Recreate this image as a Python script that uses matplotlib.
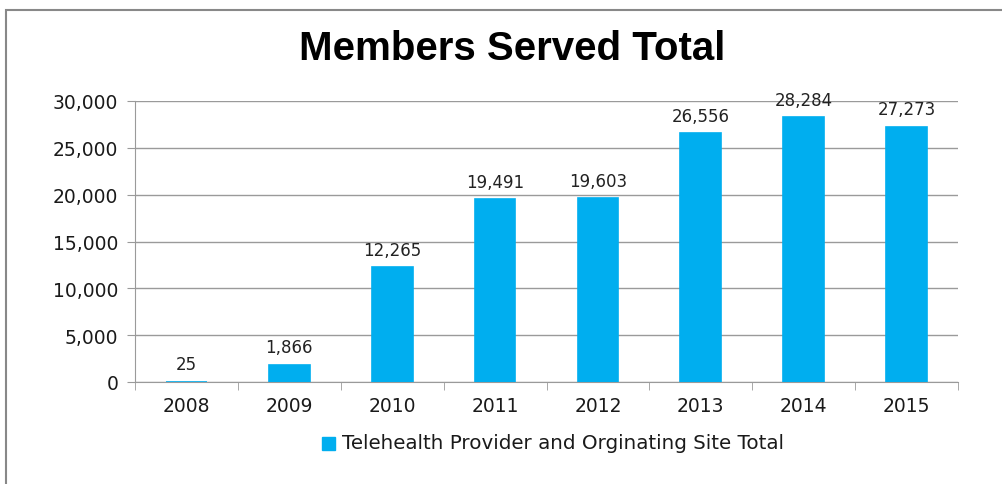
import matplotlib
matplotlib.use("Agg")
import matplotlib.pyplot as plt
from matplotlib.patches import Rectangle
from matplotlib.ticker import FuncFormatter

years = ["2008", "2009", "2010", "2011", "2012", "2013", "2014", "2015"]
members = [25, 1866, 12265, 19491, 19603, 26556, 28284, 27273]
series_name = "Telehealth Provider and Orginating Site Total"
title = "Members Served Total"

bar_color = "#00AEEF"
grid_color = "#9a9a9a"
text_color = "#1a1a1a"

fig = plt.figure(figsize=(10.02, 4.85), dpi=100)
W, H = 1002, 485

# outer chart frame
fig.patches.append(Rectangle((6 / W, -0.1), 1.2, 1 - 11 / H + 0.1, transform=fig.transFigure,
                             fill=False, edgecolor="#888888", linewidth=1.5))

ax = fig.add_axes([135 / W, 1 - 383 / H, (958 - 135) / W, (383 - 102) / H])
x = list(range(len(years)))
ax.bar(x, members, width=0.395, color=bar_color, edgecolor=bar_color, linewidth=1.2, zorder=3)

ax.set_xlim(-0.5, len(years) - 0.5)
ax.set_ylim(0, 30000)
ax.set_yticks(range(0, 30001, 5000))
ax.yaxis.set_major_formatter(FuncFormatter(lambda v, p: f"{int(v):,}"))
ax.grid(axis="y", color=grid_color, linewidth=1, zorder=0)

ax.set_xticks(x)
ax.set_xticklabels(years)
ax.set_xticks([i + 0.5 for i in range(-1, len(years))], minor=True)
ax.tick_params(axis="x", which="major", length=0, pad=10, labelsize=13.5, labelcolor=text_color)
ax.tick_params(axis="x", which="minor", length=6, color=grid_color, direction="out")
ax.tick_params(axis="y", length=6, color=grid_color, pad=6, labelsize=13.5, labelcolor=text_color)
for lab in ax.get_xticklabels() + ax.get_yticklabels():
    lab.set_fontfamily("DejaVu Sans")

ax.spines["top"].set_visible(False)
ax.spines["right"].set_visible(False)
ax.spines["left"].set_color(grid_color)
ax.spines["bottom"].set_color(grid_color)

for xi, v in zip(x, members):
    ax.annotate(f"{v:,}", (xi, v), xytext=(0, 6), textcoords="offset points",
                ha="center", va="bottom", fontsize=12, family="DejaVu Sans", color="#222222")

fig.text(512 / W, 1 - 49 / H, title, ha="center", va="center", fontsize=29,
         fontweight="bold", family="Liberation Sans", color="black")

# legend
fig.patches.append(Rectangle((322 / W, 1 - 451 / H), 13 / W, 13 / H, transform=fig.transFigure,
                             color=bar_color))
fig.text(342 / W, 1 - 444 / H, series_name, ha="left", va="center", fontsize=14.3,
         family="DejaVu Sans", color=text_color)

fig.savefig("out.png", dpi=100)
